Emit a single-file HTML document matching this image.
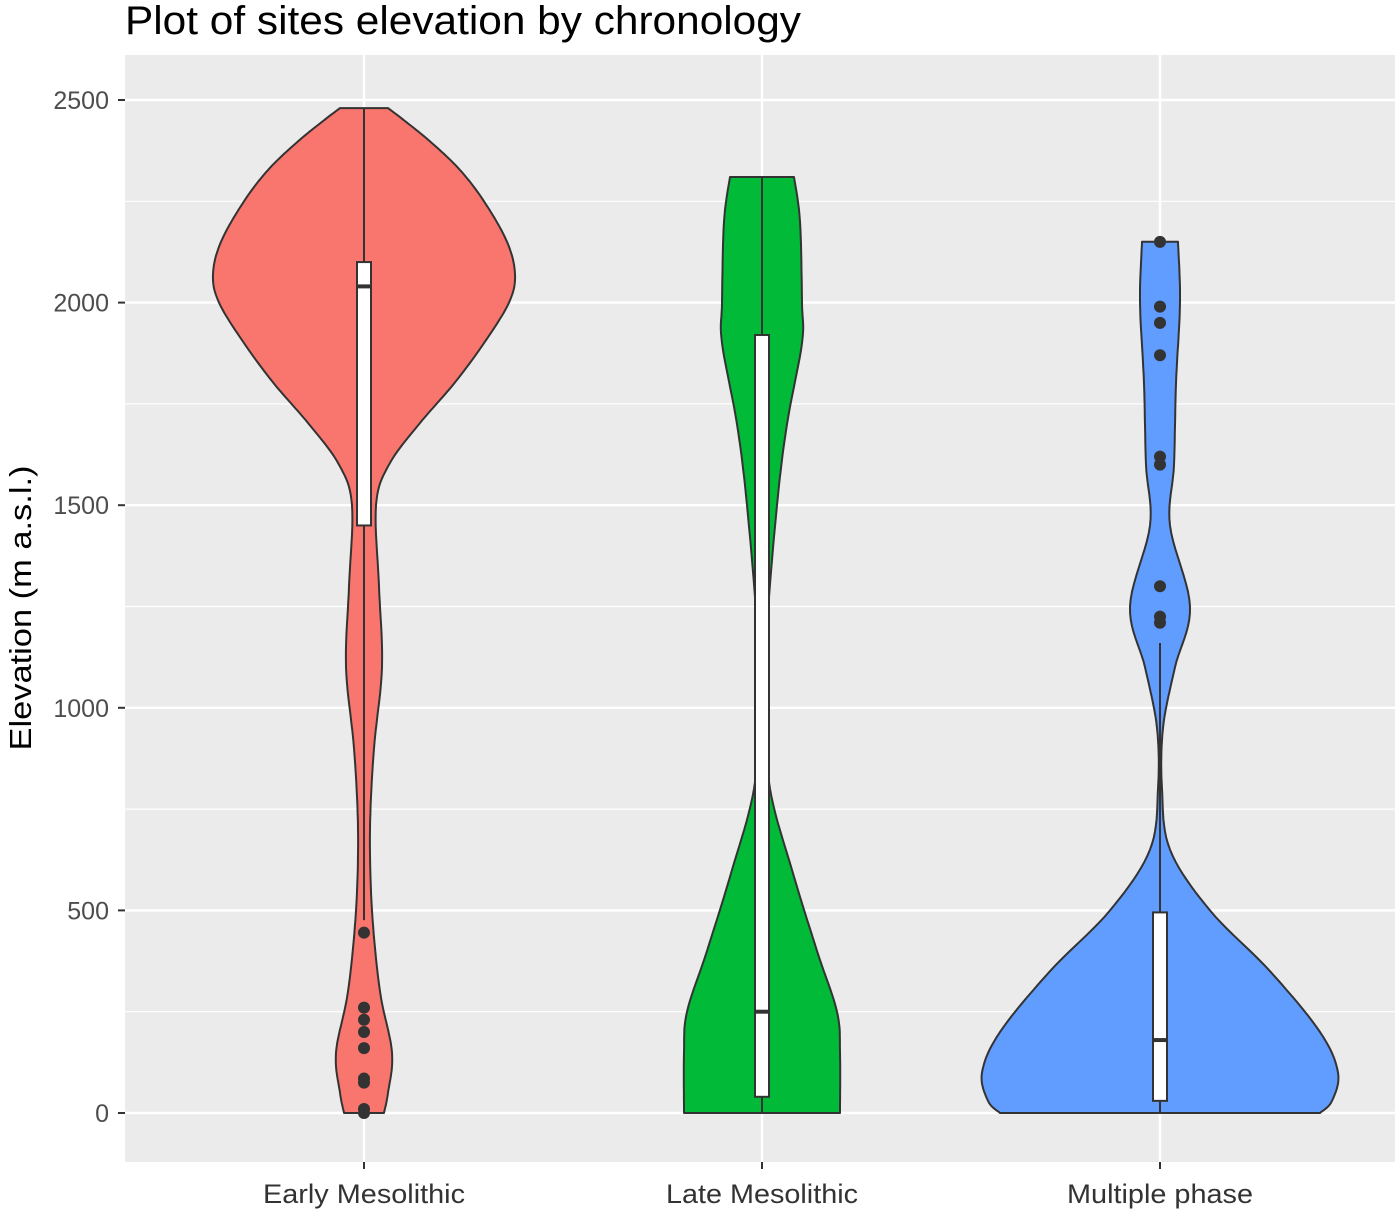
<!DOCTYPE html>
<html><head><meta charset="utf-8"><style>
body{margin:0;background:#fff;width:1400px;height:1211px;overflow:hidden}
text{font-family:"Liberation Sans",sans-serif}
</style></head><body>
<svg id="chart" width="1400" height="1211">
<rect x="125" y="55" width="1270" height="1107" fill="#ebebeb"/>
<g id="grid"></g><g id="marks"></g><g id="axes"></g>
<text x="125" y="34" font-size="40" textLength="676" lengthAdjust="spacingAndGlyphs" fill="#000">Plot of sites elevation by chronology</text>
<text transform="translate(31,608) rotate(-90)" text-anchor="middle" font-size="31" textLength="285" lengthAdjust="spacingAndGlyphs" fill="#000">Elevation (m a.s.l.)</text>
</svg>
<script>
const categories=["Early Mesolithic","Late Mesolithic","Multiple phase"];
const colors=["#f8766d","#00ba38","#619cff"];
const yTicks=[0,500,1000,1500,2000,2500];
// violin profiles: [elevation, half-width]
const violinEarly=[[0,20],[50,24],[150,28],[300,16],[500,8],[700,6],[900,10],[1100,18],[1300,15],[1500,12],[1600,25],[1700,55],[1800,90],[1900,120],[2000,145],[2070,151],[2150,143],[2250,120],[2330,95],[2400,65],[2450,40],[2480,24]];
const violinLate=[[0,78],[150,78],[250,75],[400,55],[600,30],[800,8],[1000,3],[1200,5],[1500,15],[1700,25],[1900,40],[2000,40],[2200,38],[2310,32]];
const violinMulti=[[0,160],[30,172],[100,178],[200,160],[350,110],[500,50],[650,10],[800,2],[950,3],[1100,15],[1250,30],[1450,10],[1600,14],[1800,16],[2000,20],[2150,18]];
const boxes=[[476,1450,2040,2100,2480],[0,40,250,1920,2310],[0,30,180,495,1160]];
const outEarly=[445,260,230,200,160,85,75,10,0];
const outLate=[];
const outMulti=[1210,1225,1300,1600,1620,1870,1950,1990,2150];
const violins=[violinEarly,violinLate,violinMulti];
const outliers=[outEarly,outLate,outMulti];
const NS="http://www.w3.org/2000/svg";
const y=v=>1113-v*1013/2500;
const x=i=>364+i*398;
function mk(tag,attrs,parent){const e=document.createElementNS(NS,tag);for(const k in attrs)e.setAttribute(k,attrs[k]);document.getElementById(parent).appendChild(e);return e;}
function smooth(pr){const out=[];for(let k=0;k<pr.length-1;k++){const p0=pr[Math.max(0,k-1)],p1=pr[k],p2=pr[k+1],p3=pr[Math.min(pr.length-1,k+2)];
 for(let s=0;s<10;s++){const t=s/10,t2=t*t,t3=t2*t;const f=(a,b,c,d)=>0.5*(2*b+(-a+c)*t+(2*a-5*b+4*c-d)*t2+(-a+3*b-3*c+d)*t3);
 out.push([f(p0[0],p1[0],p2[0],p3[0]),Math.max(1,f(p0[1],p1[1],p2[1],p3[1]))]);}}
 out.push(pr[pr.length-1]);return out;}
for(let v=-250;v<=2750;v+=250){const yy=y(v);if(yy<55||yy>1162)continue;
 const g=mk("line",{x1:125,x2:1395,y1:yy,y2:yy,stroke:"#fff","stroke-width":v%500===0?2.4:1.2},"grid");
 
 }
categories.forEach((c,i)=>{const g=mk("line",{x1:x(i),x2:x(i),y1:55,y2:1162,stroke:"#fff","stroke-width":2.4},"grid");
 
 });
yTicks.forEach(t=>{const yy=y(t);
 const l=mk("line",{x1:118,x2:125,y1:yy,y2:yy,stroke:"#333","stroke-width":2},"axes");
 
 
 const tx=mk("text",{x:109,y:yy+9,"text-anchor":"end","font-size":25,fill:"#4d4d4d"},"axes");tx.textContent=t;
 
 });
const labelW=[202,192,186];
categories.forEach((c,i)=>{
 const l=mk("line",{x1:x(i),x2:x(i),y1:1162,y2:1169,stroke:"#333","stroke-width":2},"axes");
 
 
 const tx=mk("text",{x:x(i),y:1203,"text-anchor":"middle","font-size":27,fill:"#333",textLength:labelW[i],lengthAdjust:"spacingAndGlyphs"},"axes");tx.textContent=c;
 
 
 const pr=smooth(violins[i]);const cx=x(i);
 let d="M"+pr.map(p=>(cx+p[1]).toFixed(1)+","+y(p[0]).toFixed(1)).join(" L")+" L"+pr.slice().reverse().map(p=>(cx-p[1]).toFixed(1)+","+y(p[0]).toFixed(1)).join(" L")+"Z";
 const vp=mk("path",{d:d,fill:colors[i],stroke:"#333","stroke-width":2,"stroke-linejoin":"round"},"marks");
 
 
 const b=boxes[i];
 const w=mk("line",{x1:cx,x2:cx,y1:y(b[0]),y2:y(b[4]),stroke:"#333","stroke-width":2},"marks");
 
 
 const r=mk("rect",{x:cx-7,y:y(b[3]),width:14,height:y(b[1])-y(b[3]),fill:"#fff",stroke:"#333","stroke-width":2},"marks");
 
 
 const m=mk("line",{x1:cx-7,x2:cx+7,y1:y(b[2]),y2:y(b[2]),stroke:"#333","stroke-width":4},"marks");
 
 
 outliers[i].forEach(o=>{const p=mk("circle",{cx:cx,cy:y(o),r:6,fill:"#333"},"marks");
  
  });
});
</script>
</body></html>
